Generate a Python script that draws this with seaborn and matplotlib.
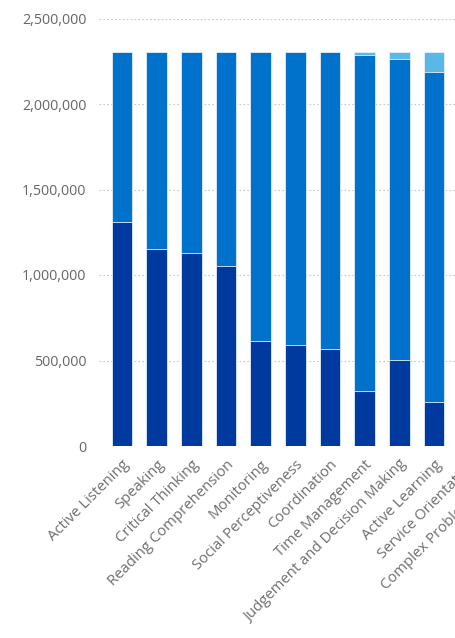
import matplotlib
matplotlib.use('Agg')
import matplotlib.pyplot as plt
from matplotlib.ticker import FuncFormatter
import seaborn as sns
import pandas as pd

# skills (the last two fall outside the visible area)
skills = ['Active Listening', 'Speaking', 'Critical Thinking', 'Reading Comprehension',
          'Monitoring', 'Social Perceptiveness', 'Coordination', 'Time Management',
          'Judgement and Decision Making', 'Active Learning', 'Service Orientation',
          'Complex Problem Solving']
visible = skills[:10]

# stacked segments, bottom to top
level_high = [1308000, 1152000, 1130000, 1054000, 616000, 591000, 569000, 322000, 503000, 257000]
level_mid = [994000, 1150000, 1172000, 1248000, 1686000, 1711000, 1733000, 1965000, 1758000, 1932000]
level_low = [0, 0, 0, 0, 0, 0, 0, 15000, 41000, 113000]

yticks = [0, 500000, 1000000, 1500000, 2000000, 2500000]

c_dark = '#003a9e'
c_mid = '#0072cc'
c_light = '#5ab8e6'

df = pd.DataFrame({'skill': visible, 'high': level_high, 'mid': level_mid, 'low': level_low})
df['top_mid'] = df['high'] + df['mid']
df['total'] = df['top_mid'] + df['low']

sns.set_theme(style='white')
plt.rcParams['font.family'] = ['Open Sans', 'DejaVu Sans']

W, H = 455, 638
fig = plt.figure(figsize=(W / 100, H / 100), dpi=100)
# axes run past the right edge, like the cropped original
left_px, right_px = 99, 122 + 11.5 * 34.67
bottom_px, top_px = 446, 446 - 2.5 * 171
ax = fig.add_axes([left_px / W, (H - bottom_px) / H,
                   (right_px - left_px) / W, (bottom_px - top_px) / H])

for col, color in [('total', c_light), ('top_mid', c_mid), ('high', c_dark)]:
    sns.barplot(data=df, x='skill', y=col, order=skills, color=color, width=0.6,
                edgecolor='#e6f0fa', linewidth=0.6, saturation=1, ax=ax)

ax.set_xlim(-(122 - left_px) / 34.67, 11.5)
ax.set_ylim(0, 2500000)
ax.set_yticks(yticks)
ax.yaxis.set_major_formatter(FuncFormatter(lambda v, p: f'{v:,.0f}'))
ax.yaxis.grid(True, linestyle=(0, (1.5, 2)), color='#c8c8c8', linewidth=0.8)
ax.set_axisbelow(True)
for s in ax.spines.values():
    s.set_visible(False)

ax.set_xticks(range(len(skills)))
ax.set_xticklabels(skills, rotation=45, ha='right', rotation_mode='anchor')
ax.tick_params(axis='x', length=0, pad=8, labelsize=10.7, labelcolor='#6e6e6e')
ax.tick_params(axis='y', length=0, pad=9, labelsize=10.3, labelcolor='#666666')
ax.set_xlabel('')
ax.set_ylabel('')

fig.savefig('out.png', dpi=100)
